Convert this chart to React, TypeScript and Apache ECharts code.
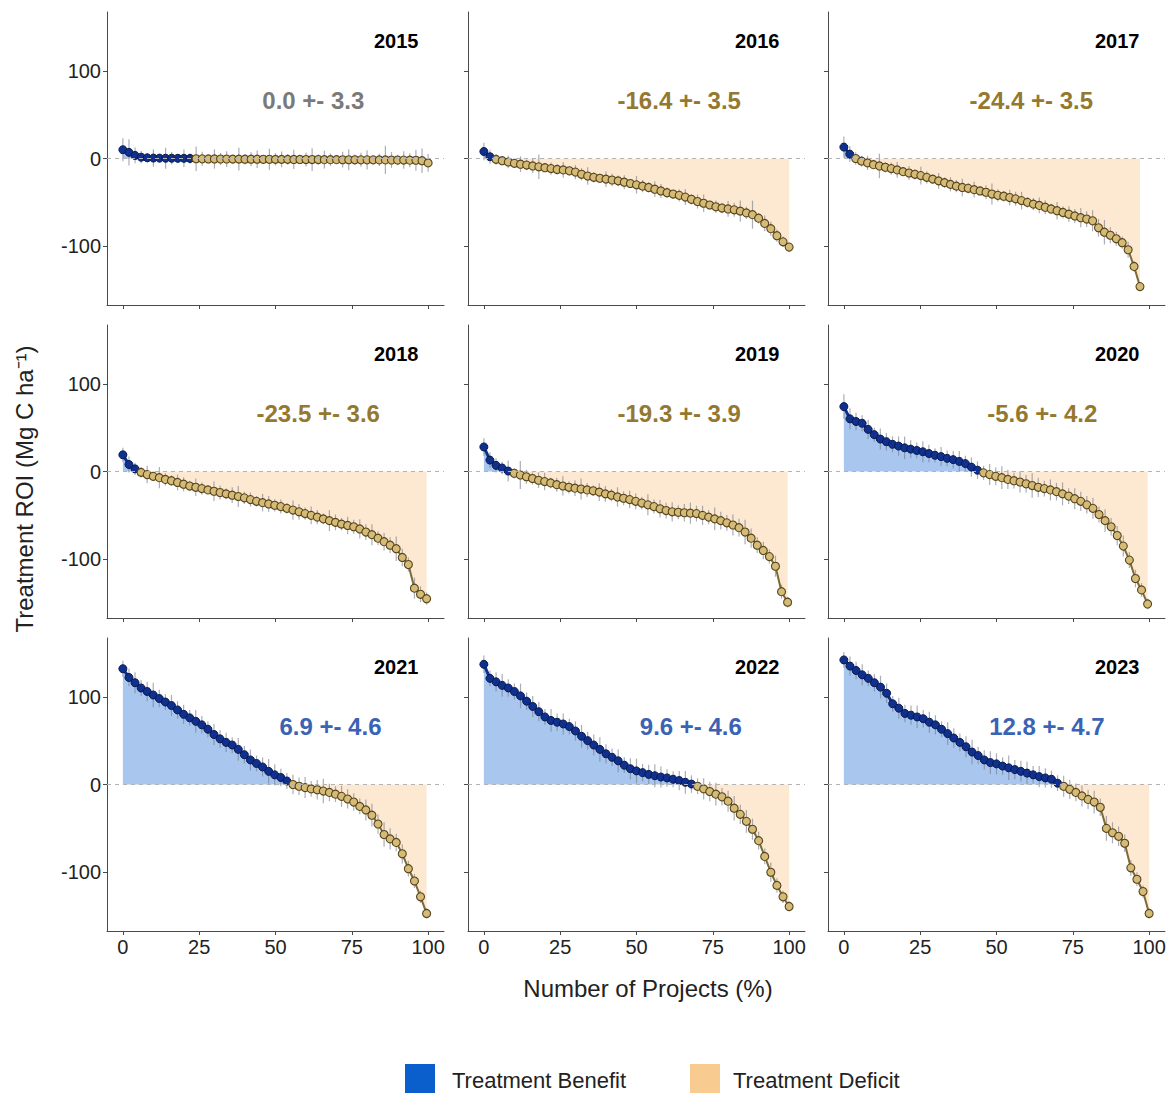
import React, { useEffect, useRef } from "react";
import * as echarts from "echarts";

const years = ["2015", "2016", "2017", "2018", "2019", "2020", "2021", "2022", "2023"];
const statLabels = ["0.0 +- 3.3", "-16.4 +- 3.5", "-24.4 +- 3.5", "-23.5 +- 3.6", "-19.3 +- 3.9", "-5.6 +- 4.2", "6.9 +- 4.6", "9.6 +- 4.6", "12.8 +- 4.7"];
const statSign = [0, -1, -1, -1, -1, -1, 1, 1, 1];
// last project position (% of projects) for each year
const xEnd = [100, 100, 97, 99.5, 99.5, 99.5, 99.5, 100, 100];

// Treatment ROI values (Mg C / ha), sorted descending, sampled every 2 % of projects
const roi2015 = [10, 7, 3.5, 1.5, 0.8, 0.5, 0.4, 0.3, 0.3, 0.2, 0.2, 0.1, -0.3, -0.4, -0.5, -0.5, -0.6, -0.6, -0.7, -0.7, -0.8, -0.8, -0.8, -0.9, -0.9, -1, -1, -1, -1.1, -1.1, -1.2, -1.2, -1.2, -1.3, -1.3, -1.3, -1.4, -1.4, -1.4, -1.5, -1.5, -1.5, -1.6, -1.6, -1.7, -1.7, -1.8, -1.9, -2, -2.5, -5];
const roi2016 = [8, 2, -1, -2.5, -4, -5.5, -6.5, -7.5, -8.5, -9.5, -10.5, -11.5, -12.5, -13, -14, -15.5, -18, -20, -21.5, -22.5, -23.5, -24.5, -25.5, -27, -28.5, -30, -31.5, -33, -35, -37, -39, -40.5, -42, -44, -46.5, -49, -51, -53, -55, -56.5, -57.5, -58.5, -60, -62, -64, -68, -74, -80, -88, -95, -101];
const roi2017 = [13, 5, 0, -3, -5, -7, -8.5, -10, -11.5, -13, -15, -16.5, -18, -19.5, -21.5, -23.5, -25.5, -27.5, -29.5, -31.5, -33, -34, -35.5, -37, -38.5, -40.5, -42, -43, -44.5, -46, -48, -50, -52, -53.5, -55.5, -57.5, -59.5, -61.5, -63.5, -65.5, -67.5, -69, -71, -79, -84, -87.5, -91.5, -96, -104, -123, -146];
const roi2018 = [19, 8, 3, -1, -3.5, -5.5, -7, -9, -10.5, -12.5, -14.5, -16.5, -18, -19.5, -21, -22.5, -24, -25.5, -27, -28.5, -30, -32, -34, -35.5, -37, -38.5, -40, -42, -44, -46, -48, -50, -52, -54, -56, -58, -60, -61.5, -63, -65.5, -69, -72, -76, -80, -84, -88, -98, -106, -133, -140, -145];
const roi2019 = [28, 13, 7, 4, 0.5, -2, -4, -6, -8, -10, -11.5, -13, -15, -16.5, -18, -19, -20, -21, -22, -23.5, -25.5, -27, -29, -30.5, -32, -34, -36, -38, -40, -42.5, -44.5, -46, -46.5, -47, -47.5, -48, -50, -52, -54, -56, -58.5, -61, -64, -69, -76, -84, -90, -97, -108, -137, -149];
const roi2020 = [74, 60, 57, 55, 48, 42, 37, 34, 31, 29, 27, 25.5, 24, 22.5, 20.5, 18.5, 17, 15, 13.5, 11.5, 9, 5, 1.5, -1.5, -3.5, -5.5, -7, -9, -10.5, -12, -14, -16, -18, -19.5, -21, -23, -25.5, -28, -31, -34, -38, -42, -49, -56, -63, -73, -85, -101, -122, -135, -151];
const roi2021 = [132, 122, 116, 110, 106, 102, 98, 94, 90, 85, 80, 76, 72, 68, 63, 57, 52, 48, 45, 40, 34, 28, 24, 20, 15, 11, 8, 4, 0, -2, -3.5, -5, -6, -7.5, -9, -11, -13.5, -16.5, -20, -25, -29, -35, -45, -57, -62, -66, -79, -96, -110, -128, -147];
const roi2022 = [137, 121, 117, 113, 110, 106, 101, 95, 89, 83, 77, 73, 71, 69, 66, 61, 55, 50, 45, 40, 35, 31, 27, 22, 18, 15.5, 13.5, 11.5, 10, 8.5, 7.5, 6, 4.5, 2.5, 0.5, -2, -5, -8, -11, -14, -19, -27, -34, -42, -51, -64, -82, -100, -115, -128, -139];
const roi2023 = [142, 135, 130, 125, 121, 116, 111, 104, 92, 87, 81, 79, 77, 75, 71, 68, 63, 58, 53, 48, 43, 37, 33, 28, 25, 23.5, 21, 19, 17, 15, 13, 11, 9, 7.5, 6, 1.5, -2, -5.5, -9, -13, -17, -20, -26, -50, -55, -59, -67, -95, -108, -122, -147];

// half-length of the grey error bars
const err2015 = [13, 15, 9, 7, 5, 10, 4, 12, 7, 5, 10, 6, 14, 8, 5, 11, 7, 9, 4, 13, 6, 8, 10, 5, 12, 7, 9, 6, 11, 5, 8, 13, 6, 10, 7, 5, 9, 12, 6, 8, 11, 5, 7, 16, 9, 6, 10, 8, 12, 14, 10];
const err2016 = [10, 8, 6, 5, 7, 4, 9, 6, 8, 14, 5, 7, 6, 9, 5, 8, 7, 10, 6, 5, 9, 7, 6, 8, 5, 10, 7, 6, 9, 8, 6, 5, 7, 9, 6, 8, 10, 5, 7, 6, 9, 8, 12, 7, 16, 6, 9, 8, 7, 6, 5];
const err2017 = [12, 9, 7, 6, 8, 5, 14, 6, 7, 9, 5, 8, 6, 10, 7, 5, 9, 6, 8, 7, 10, 6, 9, 5, 8, 12, 7, 6, 9, 8, 10, 6, 7, 9, 8, 6, 10, 7, 9, 8, 11, 9, 12, 10, 14, 9, 8, 7, 9, 6, 5];
const err2018 = [8, 9, 7, 6, 10, 5, 12, 7, 6, 9, 8, 6, 10, 7, 5, 11, 8, 6, 9, 12, 7, 8, 6, 10, 9, 7, 8, 6, 11, 9, 7, 10, 8, 6, 12, 9, 7, 10, 8, 11, 9, 12, 8, 10, 9, 14, 10, 8, 12, 9, 7];
const err2019 = [10, 9, 8, 7, 12, 6, 16, 8, 7, 9, 10, 6, 8, 11, 7, 9, 12, 8, 6, 10, 9, 7, 11, 8, 10, 9, 7, 12, 8, 10, 9, 11, 8, 10, 12, 9, 11, 8, 13, 10, 9, 12, 10, 14, 11, 9, 10, 8, 12, 8, 6];
const err2020 = [14, 12, 10, 9, 11, 8, 12, 10, 9, 11, 13, 10, 9, 12, 10, 8, 11, 9, 10, 12, 9, 11, 10, 8, 12, 10, 13, 11, 9, 12, 10, 14, 11, 9, 12, 10, 13, 9, 12, 11, 10, 12, 9, 13, 10, 11, 12, 9, 10, 8, 6];
const err2021 = [9, 10, 12, 9, 11, 14, 10, 9, 12, 10, 11, 9, 13, 10, 9, 12, 10, 11, 9, 13, 10, 12, 9, 11, 14, 12, 10, 9, 11, 10, 12, 9, 11, 14, 10, 9, 12, 11, 10, 9, 12, 13, 11, 14, 12, 10, 11, 9, 8, 7, 6];
const err2022 = [10, 9, 11, 13, 10, 9, 14, 10, 12, 11, 9, 13, 10, 12, 9, 11, 13, 10, 12, 14, 11, 10, 13, 9, 12, 14, 10, 11, 13, 12, 10, 9, 11, 13, 10, 9, 12, 11, 13, 10, 12, 14, 11, 13, 12, 10, 9, 11, 8, 7, 6];
const err2023 = [9, 11, 10, 12, 9, 10, 13, 11, 9, 12, 10, 11, 13, 10, 12, 11, 9, 13, 11, 10, 12, 14, 10, 11, 13, 12, 10, 14, 11, 12, 13, 10, 12, 11, 10, 9, 12, 11, 10, 12, 11, 13, 10, 14, 12, 11, 10, 9, 8, 7, 6];

const roiByYear = [roi2015, roi2016, roi2017, roi2018, roi2019, roi2020, roi2021, roi2022, roi2023];
const errByYear = [err2015, err2016, err2017, err2018, err2019, err2020, err2021, err2022, err2023];

const xTicks = [0, 25, 50, 75, 100];
const yTicks = [-100, 0, 100];

// label placement (layout, data coordinates)
const statX = [62.4, 64, 61.4, 64, 64, 65, 68, 67.8, 66.5];
const statY = 66;
const yearX = 97;
const yearY = 134;

const FONT = "'Liberation Sans', Arial, Helvetica, sans-serif";
const colLeft = [107, 468, 828];
const rowTop = [12, 325, 638];
const gridW = 337;
const gridH = 293;

function buildOption() {
  const grid: any[] = [];
  const xAxis: any[] = [];
  const yAxis: any[] = [];
  const series: any[] = [];

  years.forEach((yr, i) => {
    const col = i % 3;
    const row = Math.floor(i / 3);
    grid.push({ left: colLeft[col], top: rowTop[row], width: gridW, height: gridH });
    xAxis.push({
      gridIndex: i,
      type: "value",
      min: -5.2,
      max: 105.2,
      axisLine: { show: true, onZero: false, lineStyle: { color: "#4a4a4a", width: 1 } },
      axisTick: { show: true, customValues: xTicks, length: 4, lineStyle: { color: "#4a4a4a" } },
      axisLabel: { show: row === 2, customValues: xTicks, fontSize: 20, color: "#222", margin: 6, fontFamily: FONT },
      splitLine: { show: false },
    });
    yAxis.push({
      gridIndex: i,
      type: "value",
      min: -167,
      max: 167,
      axisLine: { show: true, onZero: false, lineStyle: { color: "#4a4a4a", width: 1 } },
      axisTick: { show: true, customValues: yTicks, length: 4, lineStyle: { color: "#4a4a4a" } },
      axisLabel: { show: col === 0, customValues: yTicks, fontSize: 20, color: "#222", margin: 6, fontFamily: FONT },
      splitLine: { show: false },
    });

    const vals = roiByYear[i];
    const errs = errByYear[i];
    const n = vals.length;
    const pts = vals.map((v, k) => [+((k / (n - 1)) * xEnd[i]).toFixed(2), v]);
    const posPts = pts.filter(([, v]) => v > 0);
    const negPts = pts.filter(([, v]) => v <= 0);

    series.push({
      type: "line",
      xAxisIndex: i,
      yAxisIndex: i,
      data: pts.map(([x, v]) => [x, Math.max(v, 0)]),
      symbol: "none",
      lineStyle: { width: 0 },
      areaStyle: { color: "#a9c7ee", opacity: 1 },
      z: 1,
      silent: true,
    });
    series.push({
      type: "line",
      xAxisIndex: i,
      yAxisIndex: i,
      data: pts.map(([x, v]) => [x, Math.min(v, 0)]),
      symbol: "none",
      lineStyle: { width: 0 },
      areaStyle: { color: "#fde8d2", opacity: 1 },
      z: 1,
      silent: true,
      markLine: {
        silent: true,
        symbol: "none",
        label: { show: false },
        lineStyle: { type: [4, 4], color: "#b3b3b3", width: 1 },
        data: [{ yAxis: 0 }],
      },
    });
    series.push({
      type: "custom",
      xAxisIndex: i,
      yAxisIndex: i,
      data: pts.map(([x, v], k) => [x, v - errs[k], v + errs[k]]),
      encode: { x: 0, y: [1, 2] },
      z: 2,
      silent: true,
      renderItem: (params: any, api: any) => {
        const p1 = api.coord([api.value(0), api.value(1)]);
        const p2 = api.coord([api.value(0), api.value(2)]);
        return {
          type: "line",
          shape: { x1: p1[0], y1: p1[1], x2: p2[0], y2: p2[1] },
          style: { stroke: "rgba(115,120,135,0.6)", lineWidth: 1.2 },
        };
      },
    });
    // thin connectors under the overlapping project markers
    series.push({
      type: "line",
      xAxisIndex: i,
      yAxisIndex: i,
      data: posPts.length ? [...posPts, negPts[0]] : [],
      symbol: "none",
      lineStyle: { width: 3, color: "#10308f" },
      z: 3,
      silent: true,
    });
    series.push({
      type: "line",
      xAxisIndex: i,
      yAxisIndex: i,
      data: negPts,
      symbol: "none",
      lineStyle: { width: 2, color: "#7d6a36" },
      z: 3,
      silent: true,
    });
    series.push({
      type: "scatter",
      xAxisIndex: i,
      yAxisIndex: i,
      data: posPts,
      symbolSize: 8,
      itemStyle: { color: "#10308f", borderColor: "#08194d", borderWidth: 1, opacity: 1 },
      z: 4,
      silent: true,
    });
    series.push({
      type: "scatter",
      xAxisIndex: i,
      yAxisIndex: i,
      data: negPts,
      symbolSize: 8,
      itemStyle: { color: "#d6bb76", borderColor: "#55441c", borderWidth: 1.1, opacity: 1 },
      z: 4,
      silent: true,
    });
    const statColor = statSign[i] > 0 ? "#3b63b5" : statSign[i] < 0 ? "#957830" : "#7a7a7a";
    series.push({
      type: "scatter",
      xAxisIndex: i,
      yAxisIndex: i,
      data: [[statX[i], statY]],
      symbolSize: 1,
      itemStyle: { color: "rgba(0,0,0,0)", opacity: 1 },
      z: 5,
      silent: true,
      label: {
        show: true,
        position: "inside",
        formatter: statLabels[i],
        fontSize: 24,
        fontWeight: "bold",
        color: statColor,
        opacity: 1,
        fontFamily: FONT,
      },
    });
    series.push({
      type: "scatter",
      xAxisIndex: i,
      yAxisIndex: i,
      data: [[yearX, yearY]],
      symbolSize: 1,
      itemStyle: { color: "rgba(0,0,0,0)", opacity: 1 },
      z: 5,
      silent: true,
      label: {
        show: true,
        position: "left",
        distance: 0,
        formatter: yr,
        fontSize: 20,
        fontWeight: "bold",
        color: "#000",
        opacity: 1,
        fontFamily: FONT,
      },
    });
  });

  const graphic: any[] = [
    {
      type: "text",
      x: 24,
      y: 489,
      rotation: Math.PI / 2,
      style: {
        text: "Treatment ROI (Mg C ha\u207B\u00B9)",
        fontSize: 24,
        fontFamily: FONT,
        fill: "#222",
        align: "center",
        verticalAlign: "middle",
      },
    },
    {
      type: "text",
      x: 648,
      y: 988,
      style: {
        text: "Number of Projects (%)",
        fontSize: 24,
        fontFamily: FONT,
        fill: "#222",
        align: "center",
        verticalAlign: "middle",
      },
    },
    { type: "rect", shape: { x: 405, y: 1064, width: 30, height: 30 }, style: { fill: "#0b5fcc" } },
    {
      type: "text",
      x: 452,
      y: 1080,
      style: { text: "Treatment Benefit", fontSize: 22, fontFamily: FONT, fill: "#222", verticalAlign: "middle" },
    },
    { type: "rect", shape: { x: 690, y: 1064, width: 30, height: 30 }, style: { fill: "#f8cb90" } },
    {
      type: "text",
      x: 733,
      y: 1080,
      style: { text: "Treatment Deficit", fontSize: 22, fontFamily: FONT, fill: "#222", verticalAlign: "middle" },
    },
  ];

  return {
    animation: false,
    backgroundColor: "#ffffff",
    grid,
    xAxis,
    yAxis,
    series,
    graphic,
  };
}

export default function App() {
  const ref = useRef<HTMLDivElement>(null);
  useEffect(() => {
    if (!ref.current) return;
    const chart = echarts.init(ref.current, undefined, { renderer: "svg" });
    chart.setOption(buildOption() as any);
    return () => chart.dispose();
  }, []);
  return (
    <div
      ref={ref}
      style={{ position: "absolute", left: 0, top: 0, width: 1170, height: 1093 }}
    />
  );
}
